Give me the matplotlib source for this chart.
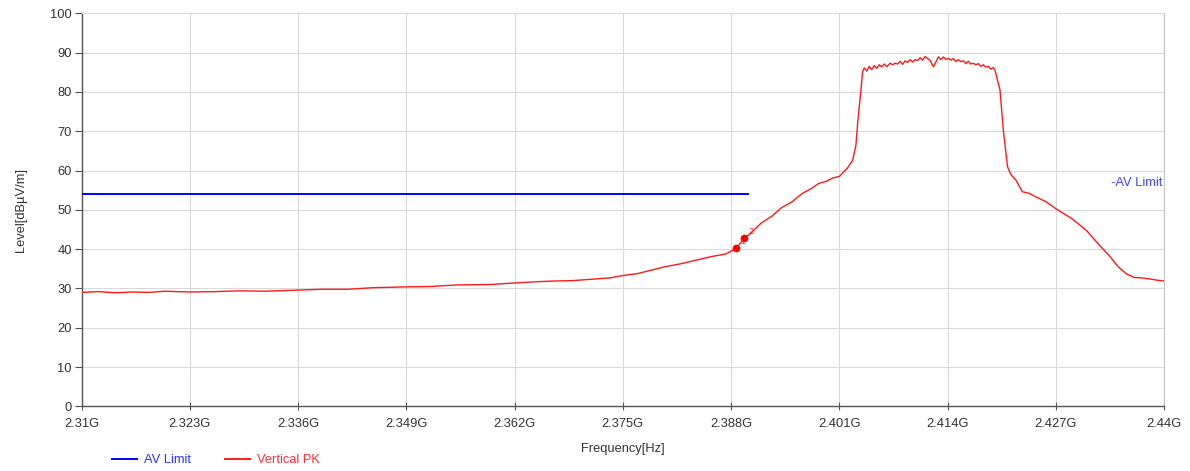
import matplotlib
matplotlib.use("Agg")
import matplotlib.pyplot as plt
from matplotlib.lines import Line2D

plt.rcParams['font.family'] = ['Liberation Sans', 'DejaVu Sans']

# ---------------- data ----------------
x_ticks = [2.310, 2.323, 2.336, 2.349, 2.362, 2.375, 2.388, 2.401, 2.414, 2.427, 2.440]
x_tick_labels = ["2.31G", "2.323G", "2.336G", "2.349G", "2.362G", "2.375G",
                 "2.388G", "2.401G", "2.414G", "2.427G", "2.44G"]
y_ticks = [0, 10, 20, 30, 40, 50, 60, 70, 80, 90, 100]

av_limit_freq = [2.310, 2.390]
av_limit_level = [54.0, 54.0]

pk_freq = [
    2.3100, 2.3120, 2.3140, 2.3160, 2.3180, 2.3200, 2.3230, 2.3260, 2.3290, 2.3320,
    2.3360, 2.3390, 2.3420, 2.3450, 2.3490, 2.3520, 2.3550, 2.3590, 2.3620, 2.3645,
    2.3668, 2.3690, 2.3715, 2.3735, 2.3750, 2.3768, 2.3785, 2.3800, 2.3820, 2.3838,
    2.3856, 2.3874, 2.3886, 2.3896, 2.3904, 2.3916, 2.3929, 2.3941, 2.3953, 2.3965,
    2.3977, 2.3985, 2.3995, 2.4002, 2.4010, 2.4020, 2.4026, 2.4030, 2.4032, 2.4036,
    2.4038, 2.4040, 2.4043, 2.4046, 2.4049, 2.4052, 2.4055, 2.4058, 2.4061, 2.4064,
    2.4067, 2.4071, 2.4074, 2.4077, 2.4080, 2.4083, 2.4086, 2.4089, 2.4092, 2.4095,
    2.4098, 2.4101, 2.4104, 2.4107, 2.4110, 2.4113, 2.4116, 2.4119, 2.4121, 2.4123,
    2.4126, 2.4129, 2.4132, 2.4135, 2.4138, 2.4141, 2.4144, 2.4147, 2.4150, 2.4153,
    2.4156, 2.4159, 2.4162, 2.4165, 2.4168, 2.4171, 2.4174, 2.4177, 2.4180, 2.4183,
    2.4186, 2.4189, 2.4192, 2.4195, 2.4197, 2.4203, 2.4207, 2.4212, 2.4216, 2.4222,
    2.4230, 2.4238, 2.4246, 2.4258, 2.4270, 2.4279, 2.4289, 2.4298, 2.4308, 2.4317,
    2.4326, 2.4336, 2.4345, 2.4355, 2.4364, 2.4373, 2.4383, 2.4392, 2.4400,
]
pk_level = [
    29.0, 29.2, 28.9, 29.1, 29.0, 29.3, 29.1, 29.2, 29.4, 29.3,
    29.6, 29.8, 29.8, 30.2, 30.4, 30.5, 30.9, 31.0, 31.4, 31.7,
    31.9, 32.0, 32.4, 32.7, 33.3, 33.8, 34.7, 35.5, 36.3, 37.2,
    38.1, 38.8, 40.2, 42.8, 44.1, 46.6, 48.4, 50.6, 52.0, 54.1,
    55.5, 56.7, 57.3, 58.1, 58.5, 60.7, 62.6, 66.5, 72.0, 80.5,
    85.2, 86.1, 85.3, 86.5, 85.7, 86.7, 86.0, 86.9, 86.4, 87.1,
    86.4, 87.3, 86.9, 87.3, 87.1, 87.8, 87.0, 87.9, 87.5, 88.2,
    87.6, 88.2, 88.0, 88.7, 88.1, 89.0, 88.5, 88.0, 87.2, 86.4,
    87.6, 88.9, 88.2, 88.9, 88.3, 88.5, 88.1, 88.5, 87.7, 88.2,
    87.7, 87.9, 87.2, 87.8, 87.1, 87.3, 86.9, 87.2, 86.5, 86.9,
    86.3, 86.5, 85.8, 86.2, 85.5, 80.5, 70.3, 61.0, 59.0, 57.6,
    54.6, 54.2, 53.3, 52.1, 50.3, 49.1, 47.8, 46.3, 44.5, 42.3,
    40.2, 37.9, 35.5, 33.7, 32.8, 32.7, 32.4, 32.1, 31.9,
]

marker_freq = [2.3886, 2.3896]
marker_level = [40.2, 42.8]
marker_labels = ["1", "2"]

# ---------------- figure ----------------
fig = plt.figure(figsize=(11.9, 4.71), dpi=100)
ax = fig.add_axes([81.7 / 1190, 1 - 406.4 / 471, (1164 - 81.7) / 1190, (406.4 - 13.3) / 471])

ax.set_xlim(2.310, 2.440)
ax.set_ylim(0, 100)

ax.grid(True, color="#dadada", linewidth=0.8)
ax.set_axisbelow(True)

ax.plot(av_limit_freq, av_limit_level, color="#0000ff", linewidth=1.4, label="AV Limit", zorder=3)
ax.plot(pk_freq, pk_level, color="#ff1a1a", linewidth=1.0, label="Vertical PK", zorder=4)
ax.plot(marker_freq, marker_level, linestyle="none", marker="o", markersize=4.5,
        color="#ff0000", zorder=5)
for f, l, t in zip(marker_freq, marker_level, marker_labels):
    ax.annotate(t, (f, l), xytext=(3, 3), textcoords="offset points",
                color="#ff3030", fontsize=6.5)

ax.text(2.4398, 56.8, "-AV Limit", color="#4545ff", fontsize=9.3,
        ha="right", va="center")

ax.set_xticks(x_ticks)
ax.set_xticklabels(x_tick_labels)
ax.set_yticks(y_ticks)
ax.tick_params(axis="x", direction="inout", length=6, color="#555555",
               labelsize=9.3, labelcolor="#333333", pad=5)
ax.tick_params(axis="y", direction="out", length=5, color="#555555",
               labelsize=9.3, labelcolor="#333333", pad=2)

for s in ("left", "bottom"):
    ax.spines[s].set_color("#555555")
    ax.spines[s].set_linewidth(1.0)
ax.spines["right"].set_color("#c4c4c4")
ax.spines["top"].set_color("#dadada")
ax.spines["top"].set_linewidth(0.8)

ax.set_xlabel("Frequency[Hz]", fontsize=9.3, color="#333333", labelpad=10)
ax.set_ylabel("Level[dBµV/m]", fontsize=9.3, color="#333333", labelpad=17)

handles = [Line2D([], [], color="#0000ff", linewidth=1.4),
           Line2D([], [], color="#ff1a1a", linewidth=1.4)]
fig.legend(handles, ["AV Limit", "Vertical PK"], loc="center left",
           bbox_to_anchor=(100 / 1190, 11 / 471), ncol=2, frameon=False,
           fontsize=9.3, handlelength=2.0, handletextpad=0.5, columnspacing=2.6,
           labelcolor=["#3030ff", "#ff3030"])

fig.savefig("out.png", dpi=100)
